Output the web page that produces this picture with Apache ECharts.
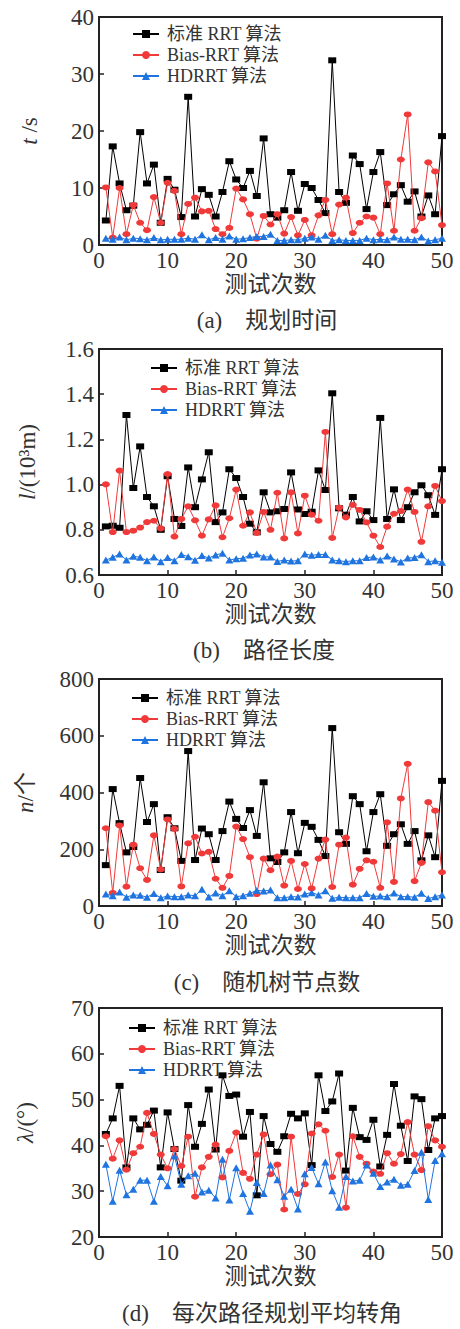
<!DOCTYPE html>
<html><head><meta charset="utf-8">
<script src="https://cdn.jsdelivr.net/npm/echarts@6/dist/echarts.min.js"></script>
<style>html,body{margin:0;padding:0;background:#fff}#c{width:460px;height:1329px}</style>
</head><body><div id="c"></div>
<script>
const trials = [1,2,3,4,5,6,7,8,9,10,11,12,13,14,15,16,17,18,19,20,21,22,23,24,25,26,27,28,29,30,31,32,33,34,35,36,37,38,39,40,41,42,43,44,45,46,47,48,49,50];
const seriesNames = ['标准 RRT 算法', 'Bias-RRT 算法', 'HDRRT 算法'];

// (a) 规划时间 t/s
const timeRRT  = [4.3,17.3,10.8,6.1,6.9,19.8,10.8,14.1,3.9,11.6,9.7,4.9,26.0,5.0,9.8,8.8,5.0,9.3,14.7,11.5,10.0,13.0,8.6,18.7,5.4,4.8,6.1,12.8,6.0,10.7,10.0,7.9,5.6,32.4,9.3,7.4,15.7,14.2,6.3,12.8,16.3,7.0,8.9,10.5,7.6,9.4,5.0,8.7,5.4,19.1];
const timeBias = [10.1,1.3,10.0,1.9,7.0,3.9,2.6,8.4,3.9,10.9,9.5,1.9,7.2,8.3,5.9,6.0,2.8,1.9,3.0,9.9,8.0,5.4,1.1,5.1,3.6,5.4,2.0,4.9,1.7,4.4,1.7,5.2,7.9,1.9,7.1,8.3,2.1,3.9,5.0,4.8,1.9,10.8,2.5,15.0,22.9,2.5,4.7,14.5,12.9,3.5];
const timeHD   = [1.2,1.0,1.4,0.9,1.2,1.1,0.9,1.3,0.9,1.0,1.0,1.0,1.2,1.0,1.8,0.9,1.3,1.0,1.6,1.0,1.1,1.3,1.5,1.5,1.9,0.8,0.8,0.9,0.9,1.2,1.4,1.0,1.7,0.8,0.9,0.8,0.8,0.8,1.2,0.9,1.0,0.9,1.4,1.0,1.0,0.9,1.4,0.7,0.9,1.2];

// (b) 路径长度 l/(10^3 m)
const lenRRT  = [0.815,0.818,0.809,1.308,0.985,1.169,0.945,0.904,0.800,1.037,0.848,0.817,1.076,0.900,1.023,1.143,0.834,0.877,1.068,1.029,0.945,0.827,0.789,0.966,0.877,0.882,0.892,1.054,0.890,0.870,0.880,1.063,0.976,1.404,0.895,0.867,0.945,0.837,0.882,0.843,1.295,0.848,0.979,0.843,0.900,0.966,0.997,0.953,0.866,1.068];
const lenBias = [1.001,0.790,1.062,0.790,0.796,0.810,0.834,0.840,0.806,1.047,0.770,0.848,0.904,0.842,0.774,0.846,0.908,0.767,0.851,0.978,0.818,0.877,0.786,0.879,0.800,0.964,0.762,0.966,0.784,0.951,0.867,0.840,1.233,0.764,0.898,0.855,0.910,0.888,0.833,0.774,0.724,0.814,0.871,0.883,0.978,0.879,0.747,0.904,0.994,0.927];
const lenHD   = [0.666,0.678,0.693,0.666,0.683,0.678,0.663,0.680,0.659,0.677,0.663,0.691,0.681,0.665,0.686,0.675,0.689,0.696,0.666,0.672,0.674,0.689,0.693,0.680,0.680,0.660,0.666,0.662,0.663,0.693,0.687,0.691,0.691,0.666,0.663,0.659,0.663,0.663,0.677,0.680,0.666,0.684,0.671,0.658,0.675,0.677,0.690,0.659,0.663,0.656];

// (c) 随机树节点数 n/个
const nodeRRT  = [144,412,292,189,208,451,296,359,127,313,274,159,546,162,273,253,162,264,368,307,275,338,247,436,168,155,189,331,186,293,279,233,176,627,260,219,387,359,193,331,394,212,253,288,219,264,161,249,172,441];
const nodeBias = [274,46,284,68,216,133,92,249,129,305,272,69,221,244,185,191,96,64,106,280,236,172,42,167,126,174,72,159,60,148,62,167,234,67,216,241,75,131,161,156,64,295,85,379,501,88,152,366,336,119];
const nodeHD   = [42,36,49,31,39,38,31,44,29,35,33,33,39,36,59,32,46,36,54,33,36,45,55,53,56,29,29,33,32,42,47,39,54,27,31,29,29,29,44,34,35,33,46,33,33,31,45,26,33,39];

// (d) 每次路径规划平均转角 λ/(°)
const angRRT  = [42.5,45.9,53.0,35.2,45.9,43.5,44.5,47.6,35.2,47.2,39.2,32.3,48.8,39.7,44.7,52.2,39.1,55.3,50.8,51.1,41.9,47.3,29.1,46.4,40.3,38.6,42.0,46.9,45.9,47.0,35.7,55.3,47.5,49.6,55.7,34.5,48.2,41.8,41.2,45.6,35.4,42.3,53.4,44.3,36.6,50.7,50.1,39.0,45.9,46.4];
const angBias = [42.0,37.1,41.1,34.7,38.3,39.7,47.1,42.5,38.0,35.0,39.2,35.5,41.9,28.8,35.2,37.5,40.2,33.0,38.8,42.8,34.0,32.7,38.0,42.4,33.7,35.8,26.0,41.9,29.4,31.5,42.6,44.6,43.2,33.1,38.0,26.4,42.0,37.5,36.0,34.3,33.8,38.3,36.0,38.1,45.1,38.0,34.6,44.2,41.1,39.7];
const angHD   = [35.9,27.8,34.6,29.2,30.4,32.4,32.4,27.8,33.2,31.2,37.7,31.5,33.4,33.9,29.8,30.2,28.5,37.0,28.1,35.1,29.5,25.6,31.9,29.5,35.7,32.5,28.9,30.4,26.1,33.8,35.2,31.6,36.4,30.1,26.5,33.2,32.2,32.4,35.7,33.9,31.0,32.0,32.6,31.3,31.5,34.5,38.5,28.2,36.7,38.2];

const xTicks = {min: 0, max: 50, interval: 10};
const yTicks = [
  {min: 0, max: 40, interval: 10},
  {min: 0.6, max: 1.6, interval: 0.2},
  {min: 0, max: 800, interval: 200},
  {min: 20, max: 70, interval: 10}
];
const yNames = ['{i|t} /s', '{i|l}/(10³m)', '{i|n}/个', '{i|λ}/(°)'];
const captions = ['(a)　规划时间', '(b)　路径长度', '(c)　随机树节点数', '(d)　每次路径规划平均转角'];
const panelData = [
  [timeRRT, timeBias, timeHD],
  [lenRRT, lenBias, lenHD],
  [nodeRRT, nodeBias, nodeHD],
  [angRRT, angBias, angHD]
];

const SERIF = "'Liberation Serif','Noto Sans CJK SC',serif";
const colors = ['#000000', '#f03a3a', '#1f74e0'];
const symbols = ['rect', 'circle', 'triangle'];
const grids = [
  {left: 99, top: 17, width: 343, height: 228},
  {left: 99, top: 349, width: 343, height: 226},
  {left: 99, top: 679, width: 343, height: 227},
  {left: 99, top: 1008, width: 343, height: 229}
];
const legendPos = [
  {left: 127, top: 20},
  {left: 145, top: 354},
  {left: 126, top: 684},
  {left: 123, top: 1014}
];
const yNameGap = [58, 60, 62, 62];
const capPos = [[267, 320], [264, 650], [267, 982], [262, 1313]];

const chart = echarts.init(document.getElementById('c'), null, {renderer: 'svg'});
const option = {
  backgroundColor: '#fff',
  animation: false,
  grid: grids.map(g => Object.assign({show: true, borderColor: '#222', borderWidth: 2, backgroundColor: 'transparent'}, g)),
  xAxis: grids.map((g, i) => ({
    type: 'value', gridIndex: i, min: xTicks.min, max: xTicks.max, interval: xTicks.interval,
    name: '测试次数', nameLocation: 'middle', nameGap: 27,
    nameTextStyle: {fontSize: 23, color: '#333', fontFamily: SERIF},
    axisLine: {show: true, lineStyle: {color: '#222', width: 2}},
    axisTick: {show: true, inside: true, length: 5, lineStyle: {color: '#222', width: 1.5}},
    axisLabel: {fontSize: 23, color: '#333', fontFamily: SERIF, margin: 4},
    splitLine: {show: false}
  })),
  yAxis: grids.map((g, i) => ({
    type: 'value', gridIndex: i, min: yTicks[i].min, max: yTicks[i].max, interval: yTicks[i].interval,
    name: yNames[i], nameLocation: 'middle', nameRotate: 90, nameGap: yNameGap[i],
    nameTextStyle: {fontSize: 23, color: '#333', fontFamily: SERIF,
      rich: {i: {fontSize: 23, fontStyle: 'italic', color: '#333', fontFamily: SERIF}}},
    axisLine: {show: true, lineStyle: {color: '#222', width: 2}},
    axisTick: {show: true, inside: true, length: 5, lineStyle: {color: '#222', width: 1.5}},
    axisLabel: {fontSize: 23, color: '#333', fontFamily: SERIF, margin: 5,
      formatter: i === 1 ? (v => v.toFixed(1)) : (v => String(v))},
    splitLine: {show: false}
  })),
  legend: legendPos.map(p => ({
    left: p.left, top: p.top, orient: 'vertical', data: seriesNames,
    itemWidth: 26, itemHeight: 10, itemGap: 3,
    textStyle: {fontSize: 18, lineHeight: 17, color: '#333', fontFamily: SERIF, padding: [0, 0, 0, 3]}
  })),
  series: [],
  graphic: captions.map((t, i) => ({
    type: 'text', x: capPos[i][0], y: capPos[i][1],
    style: {text: t, font: "23px 'Liberation Serif','Noto Sans CJK SC',serif", fill: '#333', textAlign: 'center', textVerticalAlign: 'middle'}
  }))
};
panelData.forEach((arrs, p) => {
  arrs.forEach((vals, s) => {
    option.series.push({
      type: 'line', name: seriesNames[s], xAxisIndex: p, yAxisIndex: p,
      data: trials.map((x, k) => [x, vals[k]]),
      symbol: symbols[s], symbolSize: s === 2 ? [8, 7] : [8, 6],
      lineStyle: {color: colors[s], width: 1},
      itemStyle: {color: colors[s]},
      z: 2 + s
    });
  });
});
chart.setOption(option);
</script></body></html>
